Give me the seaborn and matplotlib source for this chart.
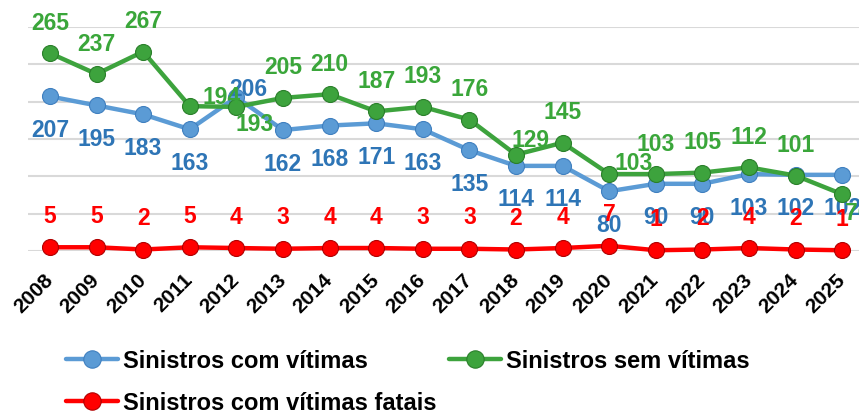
import matplotlib
matplotlib.use('Agg')
import matplotlib.pyplot as plt
from matplotlib.lines import Line2D
import seaborn as sns
import pandas as pd

# dados
anos = [str(a) for a in range(2008, 2026)]
com_vitimas = [207, 195, 183, 163, 206, 162, 168, 171, 163, 135, 114, 114, 80, 90, 90, 103, 102, 102]
sem_vitimas = [265, 237, 267, 194, 193, 205, 210, 187, 193, 176, 129, 145, 103, 103, 105, 112, 101, 76]
fatais = [5, 5, 2, 5, 4, 3, 4, 4, 3, 3, 2, 4, 7, 1, 2, 4, 2, 1]

sns.set_style('white')
plt.rcParams['font.family'] = ['Liberation Sans', 'DejaVu Sans']

df = pd.DataFrame({'ano': anos, 'com': com_vitimas, 'sem': sem_vitimas, 'fatais': fatais})

fig = plt.figure(figsize=(8.59, 4.14), dpi=100)
ax = fig.add_axes([28 / 859, 1 - 252 / 414, 831 / 859, 224 / 414])

series = [
    ('com', 'Sinistros com vítimas', '#5B9BD5', '#2E75B6', '#3F7FBF', 3),
    ('sem', 'Sinistros sem vítimas', '#3DA33D', '#3AA63A', '#2A7F2A', 4),
    ('fatais', 'Sinistros com vítimas fatais', '#FF0000', '#FF0000', '#B00000', 5),
]

# deslocamento padrão dos rótulos (pixels) e exceções
padrao = {'com': (0, -33), 'sem': (0, 31), 'fatais': (0, 32)}
excecoes = {
    ('sem', 3): (32, 10),
    ('sem', 4): (18, -17),
    ('com', 4): (12, 9),
    ('sem', 10): (15, 15),
    ('sem', 12): (25, 12),
    ('sem', 17): (16, -18),
}

handles = {}
for col, nome, cor, cor_txt, borda, z in series:
    sns.lineplot(data=df, x='ano', y=col, ax=ax, color=cor, linewidth=3.2,
                 marker='o', markersize=11.5, markerfacecolor=cor,
                 markeredgecolor=borda, markeredgewidth=0.8, clip_on=False, zorder=3)
    for i, v in enumerate(df[col]):
        dx, dy = excecoes.get((col, i), padrao[col])
        ax.annotate(str(v), (i, v), xytext=(dx, dy), textcoords='offset pixels',
                    ha='center', va='center', fontsize=16.5, fontweight='bold',
                    color=cor_txt, annotation_clip=False, zorder=z)
    handles[col] = Line2D([], [], color=cor, linewidth=3.2, marker='o', markersize=12.5,
                          markerfacecolor=cor, markeredgecolor=borda, markeredgewidth=0.8,
                          label=nome)

ax.set_ylim(0, 300)
ax.set_xlim(-0.47, 17.36)
ax.set_yticks(range(0, 301, 50))
ax.set_yticklabels([])
ax.grid(axis='y', color='#D9D9D9', linewidth=1.5)
ax.set_axisbelow(True)
ax.tick_params(axis='both', length=0)
ax.tick_params(axis='x', pad=18)
for s in ax.spines.values():
    s.set_visible(False)
ax.set_xlabel('')
ax.set_ylabel('')
ax.set_xticks(range(len(anos)))
ax.set_xticklabels(anos, rotation=45, ha='right', va='center', fontsize=15,
                   fontweight='bold', color='black', rotation_mode='anchor')

leg = fig.legend(handles=[handles['com'], handles['fatais'], handles['sem']], ncol=2,
                 loc='upper left', bbox_to_anchor=(66 / 859, 1 - 350 / 414), frameon=False,
                 prop={'size': 17, 'weight': 'bold'}, handlelength=2.2, handletextpad=0.2,
                 columnspacing=0.55, labelspacing=0.8, borderpad=0, borderaxespad=0)
for t in leg.get_texts():
    t.set_color('black')

fig.savefig('out.png', dpi=100)
